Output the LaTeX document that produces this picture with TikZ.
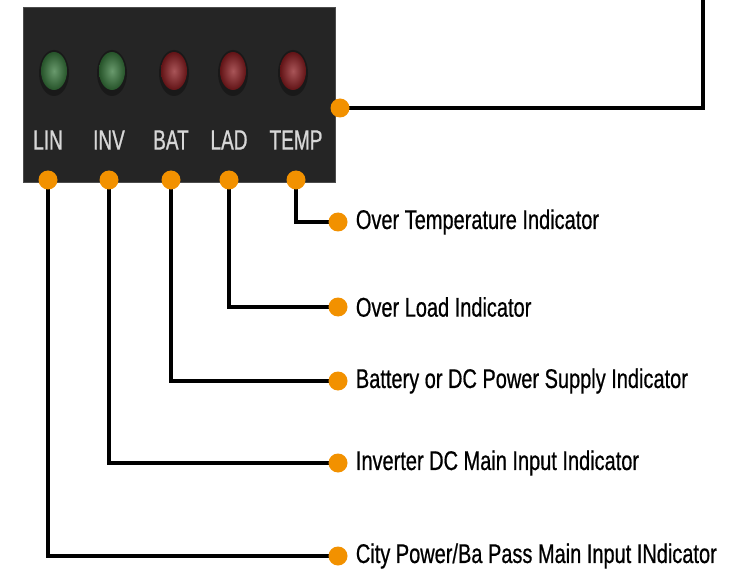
\documentclass[tikz,border=0pt]{standalone}
\usepackage{fontspec}
\setmainfont{Liberation Sans}[FakeStretch=0.74, FakeBold=0.6]
\newfontfamily\panelfont{Liberation Sans}[FakeStretch=0.68, FakeBold=0.8]
\usetikzlibrary{positioning, calc, backgrounds}
\definecolor{panelgray}{RGB}{37,37,37}
\definecolor{dotorange}{RGB}{242,145,0}
\definecolor{ledgreen}{RGB}{55,120,60}
\definecolor{ledred}{RGB}{140,28,32}
\definecolor{labelgray}{RGB}{215,215,215}
\tikzset{
  panel/.style = {fill=panelgray, draw=black!70, line width=1pt},
  dot/.style   = {circle, fill=dotorange, minimum size=19pt, inner sep=0pt},
  wire/.style  = {black, line width=3.2pt},
  tag/.style   = {font=\panelfont\fontsize{28}{30}\selectfont, text=labelgray, inner sep=0pt},
  desc/.style  = {anchor=west, font=\fontsize{27}{29}\selectfont, inner sep=0pt},
}

\begin{document}
\begin{tikzpicture}[x=1pt, y=-1pt]
  \useasboundingbox (0,0) rectangle (731,580);
  % front panel
  \fill[panel] (23,8) rectangle (335,183);
  \foreach \lx/\col in {54/ledgreen, 112/ledgreen, 174/ledred, 233/ledred, 293/ledred} {
    \fill[black!90] (\lx,73) ellipse (15pt and 23pt);
    \shade[inner color=\col!75!white, outer color=\col!70!black] (\lx,71) ellipse (13pt and 19pt);
  }
  % panel labels and their dots
  \foreach \name/\x in {LIN/48, INV/109, BAT/171, LAD/229, TEMP/296} {
    \node[tag] (l\name) at (\x,140) {\name};
    \node[dot] (d\name) at (\x,180) {};
  }
  \node[dot] (dPanel) at (340,108) {};
  % descriptions
  \foreach \name/\y/\txt in {TEMP/222/{Over Temperature Indicator},
                             LAD/307/{Over Load Indicator},
                             BAT/381/{Battery or DC Power Supply Indicator},
                             INV/463/{Inverter DC Main Input Indicator},
                             LIN/556/{City Power/Ba Pass Main Input INdicator}} {
    \node[dot] (e\name) at (338,\y) {};
    \node[desc, right=8pt of e\name] (t\name) {\txt};
  }
  % connectors
  \coordinate (corner) at (703,108);
  \coordinate (topend) at (703,-2);
  \begin{scope}[on background layer]
    \foreach \name in {LIN, INV, BAT, LAD, TEMP}
      \draw[wire] (d\name.center) |- (e\name.center);
    \draw[wire] (dPanel.center) -- (corner) -- (topend);
  \end{scope}
\end{tikzpicture}
\end{document}
